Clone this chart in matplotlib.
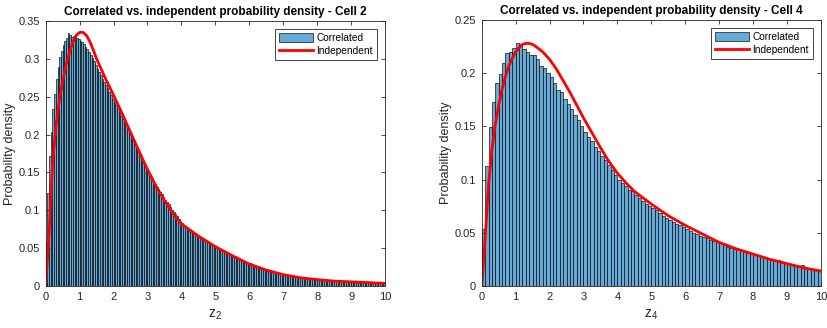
import numpy as np
import matplotlib
matplotlib.use("Agg")
import matplotlib.pyplot as plt
from matplotlib.ticker import FormatStrFormatter, MultipleLocator

plt.rcParams['font.family'] = ['Liberation Sans', 'DejaVu Sans']
plt.rcParams['mathtext.default'] = 'regular'

# Cell 2: histogram of correlated samples, bin width 0.05 on [0, 10]
cell2_bin_width = 0.05
cell2_density = [
    0.058, 0.123, 0.172, 0.204, 0.234, 0.253, 0.273, 0.289, 0.302, 0.311,
    0.318, 0.323, 0.328, 0.334, 0.331, 0.329, 0.330, 0.329, 0.328, 0.326,
    0.324, 0.322, 0.319, 0.316, 0.313, 0.309, 0.305, 0.301, 0.297, 0.292,
    0.287, 0.283, 0.279, 0.274, 0.270, 0.265, 0.261, 0.256, 0.252, 0.247,
    0.243, 0.239, 0.234, 0.230, 0.225, 0.221, 0.216, 0.212, 0.207, 0.203,
    0.198, 0.194, 0.189, 0.184, 0.179, 0.174, 0.169, 0.164, 0.160, 0.155,
    0.151, 0.147, 0.143, 0.139, 0.135, 0.131, 0.128, 0.124, 0.121, 0.117,
    0.114, 0.111, 0.108, 0.104, 0.101, 0.098, 0.095, 0.092, 0.089, 0.086,
    0.083, 0.080, 0.078, 0.077, 0.075, 0.073, 0.071, 0.069, 0.068, 0.067,
    0.065, 0.064, 0.062, 0.061, 0.059, 0.058, 0.057, 0.055, 0.054, 0.053,
    0.052, 0.050, 0.049, 0.048, 0.047, 0.046, 0.044, 0.043, 0.042, 0.041,
    0.040, 0.039, 0.038, 0.037, 0.036, 0.034, 0.033, 0.032, 0.031, 0.030,
    0.030, 0.029, 0.028, 0.027, 0.026, 0.026, 0.025, 0.024, 0.023, 0.023,
    0.022, 0.021, 0.020, 0.020, 0.019, 0.018, 0.018, 0.017, 0.017, 0.016,
    0.016, 0.015, 0.015, 0.014, 0.014, 0.013, 0.013, 0.012, 0.012, 0.012,
    0.011, 0.011, 0.011, 0.010, 0.010, 0.010, 0.0095, 0.0093, 0.0090, 0.0088,
    0.0088, 0.0086, 0.0085, 0.0083, 0.0082, 0.0080, 0.0078, 0.0077, 0.0075, 0.0074,
    0.0072, 0.0070, 0.0069, 0.0067, 0.0066, 0.0064, 0.0063, 0.0061, 0.0060, 0.0059,
    0.0058, 0.0057, 0.0056, 0.0055, 0.0054, 0.0053, 0.0052, 0.0051, 0.0050, 0.0049,
    0.0048, 0.0047, 0.0046, 0.0045, 0.0044, 0.0043, 0.0042, 0.0041, 0.0040, 0.0039,
]
# Cell 2: independent density curve
cell2_z = [0, 0.1, 0.2, 0.3, 0.4, 0.5, 0.6, 0.7, 0.8, 0.9, 1.0, 1.1, 1.2, 1.3,
           1.4, 1.5, 1.75, 2.0, 2.25, 2.5, 2.75, 3.0, 3.25, 3.5, 3.75, 4.0,
           4.5, 5.0, 5.5, 6.0, 6.5, 7.0, 7.5, 8.0, 8.5, 9.0, 9.5, 10.0]
cell2_indep = [0, 0.070, 0.160, 0.210, 0.245, 0.270, 0.292, 0.308, 0.322, 0.331,
               0.335, 0.335, 0.331, 0.323, 0.312, 0.300, 0.275, 0.252, 0.228,
               0.203, 0.178, 0.154, 0.132, 0.113, 0.096, 0.082, 0.066, 0.052,
               0.040, 0.029, 0.021, 0.015, 0.011, 0.0085, 0.0065, 0.0055,
               0.0045, 0.0035]

# Cell 4: histogram of correlated samples, bin width 0.1 on [0, 10]
cell4_bin_width = 0.1
cell4_density = [
    0.054, 0.113, 0.149, 0.173, 0.191, 0.199, 0.210, 0.219, 0.220, 0.224,
    0.228, 0.227, 0.223, 0.220, 0.217, 0.217, 0.213, 0.207, 0.205, 0.200,
    0.196, 0.191, 0.184, 0.182, 0.176, 0.171, 0.166, 0.161, 0.156, 0.150,
    0.145, 0.140, 0.136, 0.131, 0.127, 0.122, 0.118, 0.114, 0.109, 0.104,
    0.100, 0.097, 0.094, 0.090, 0.089, 0.086, 0.083, 0.080, 0.077, 0.075,
    0.073, 0.071, 0.069, 0.066, 0.064, 0.062, 0.060, 0.058, 0.057, 0.055,
    0.054, 0.052, 0.050, 0.049, 0.047, 0.046, 0.045, 0.043, 0.042, 0.041,
    0.040, 0.039, 0.037, 0.036, 0.035, 0.034, 0.033, 0.032, 0.031, 0.030,
    0.030, 0.029, 0.028, 0.027, 0.026, 0.025, 0.024, 0.024, 0.023, 0.022,
    0.022, 0.021, 0.020, 0.019, 0.020, 0.018, 0.017, 0.016, 0.016, 0.015,
]
# Cell 4: independent density curve
cell4_z = [0, 0.1, 0.2, 0.3, 0.4, 0.5, 0.6, 0.7, 0.8, 0.9, 1.0, 1.1, 1.2, 1.3,
           1.4, 1.5, 1.6, 1.8, 2.0, 2.2, 2.4, 2.6, 2.8, 3.0, 3.25, 3.5, 3.75,
           4.0, 4.25, 4.5, 5.0, 5.5, 6.0, 6.5, 7.0, 7.5, 8.0, 8.5, 9.0, 9.5, 10.0]
cell4_indep = [0, 0.045, 0.095, 0.128, 0.152, 0.170, 0.185, 0.197, 0.207, 0.214,
               0.220, 0.224, 0.227, 0.228, 0.228, 0.227, 0.225, 0.220, 0.213,
               0.204, 0.193, 0.182, 0.170, 0.158, 0.144, 0.130, 0.117, 0.106,
               0.097, 0.089, 0.077, 0.066, 0.057, 0.049, 0.041, 0.035, 0.030,
               0.025, 0.021, 0.017, 0.014]

BAR_COLOR = '#66aad7'
AX_GRAY = '#262626'


def draw_panel(ax, density, bin_width, z, indep, cell, ymax, ystep):
    edges = np.arange(len(density)) * bin_width
    bars = ax.bar(edges, density, width=bin_width, align='edge', color=BAR_COLOR,
                  edgecolor='black', linewidth=0.45)
    line, = ax.plot(z, indep, color='red', linewidth=2)

    ax.set_xlim(0, 10)
    ax.set_ylim(0, ymax)
    ax.xaxis.set_major_locator(MultipleLocator(1))
    ax.yaxis.set_major_locator(MultipleLocator(ystep))
    ax.yaxis.set_major_formatter(FormatStrFormatter('%g'))
    ax.tick_params(direction='in', length=3, width=0.6, top=True, right=True,
                   labelsize=8, colors=AX_GRAY, pad=4)
    for sp in ax.spines.values():
        sp.set_color(AX_GRAY)
        sp.set_linewidth(0.6)

    ax.set_title('Correlated vs. independent probability density - Cell %d' % cell,
                 fontsize=8.5, fontweight='bold', pad=4)
    ax.set_xlabel('$z_{%d}$' % cell, fontsize=10, color=AX_GRAY, labelpad=4)
    ax.set_ylabel('Probability density', fontsize=9, color=AX_GRAY, labelpad=2)

    leg = ax.legend([bars, line], ['Correlated', 'Independent'], loc='upper right',
                    fontsize=7.3, fancybox=False, framealpha=1, borderpad=0.4,
                    labelspacing=0.3, handlelength=3.3, handleheight=0.9,
                    handletextpad=0.35, borderaxespad=0.8)
    leg.get_frame().set_edgecolor(AX_GRAY)
    leg.get_frame().set_linewidth(0.6)


fig = plt.figure(figsize=(8.28, 3.28), dpi=100)
ax1 = fig.add_axes([0.0552, 0.128, 0.4098, 0.808])
ax2 = fig.add_axes([0.5818, 0.128, 0.4097, 0.811])

draw_panel(ax1, cell2_density, cell2_bin_width, cell2_z, cell2_indep, 2, 0.35, 0.05)
draw_panel(ax2, cell4_density, cell4_bin_width, cell4_z, cell4_indep, 4, 0.25, 0.05)

fig.savefig('out.png', dpi=100)
